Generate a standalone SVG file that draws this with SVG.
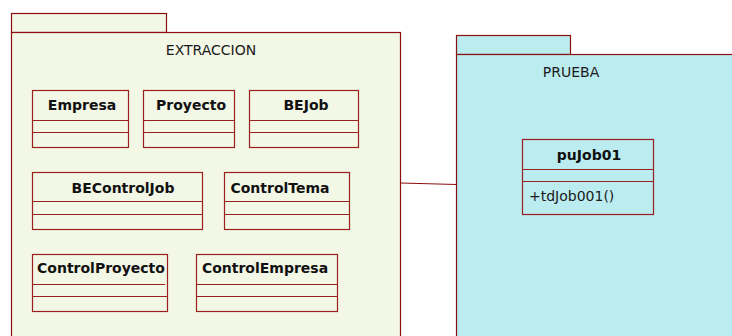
<svg xmlns="http://www.w3.org/2000/svg" width="732" height="336" viewBox="0 0 732 336">
  <style>
    .pkg-a { fill: #f3f7e5; stroke: #8b0f0f; stroke-width: 1.2; }
    .pkg-b { fill: #bbecf0; stroke: #8b0f0f; stroke-width: 1.2; }
    .cls { fill: none; stroke: #9a2020; stroke-width: 1.2; }
    .sep { stroke: #9a2020; stroke-width: 1.2; }
    .pname { font-family: "DejaVu Sans", Verdana, sans-serif; font-size: 14px; fill: #1a1a1a; text-anchor: middle; }
    .cname { font-family: "DejaVu Sans", Verdana, sans-serif; font-size: 14px; font-weight: bold; fill: #111; text-anchor: middle; }
    .op { font-family: "DejaVu Sans", Verdana, sans-serif; font-size: 14px; fill: #1a1a1a; }
    .conn { stroke: #8b0f0f; stroke-width: 1.2; fill: none; }
  </style>

  <!-- package EXTRACCION -->
  <g id="pkg-extraccion">
    <rect class="pkg-a" x="11.5" y="13.5" width="155" height="19"/>
    <rect class="pkg-a" x="11.5" y="32.5" width="389" height="320"/>
    <text class="pname" x="211" y="55">EXTRACCION</text>
  </g>

  <g id="cls-empresa">
    <rect class="cls" x="32.5" y="90.5" width="96" height="57"/>
    <line class="sep" x1="32.5" y1="120.5" x2="128.5" y2="120.5"/>
    <line class="sep" x1="32.5" y1="132.5" x2="128.5" y2="132.5"/>
    <text class="cname" x="82" y="110">Empresa</text>
  </g>
  <g id="cls-proyecto">
    <rect class="cls" x="143.5" y="90.5" width="91" height="57"/>
    <line class="sep" x1="143.5" y1="120.5" x2="234.5" y2="120.5"/>
    <line class="sep" x1="143.5" y1="132.5" x2="234.5" y2="132.5"/>
    <text class="cname" x="191" y="110">Proyecto</text>
  </g>
  <g id="cls-bejob">
    <rect class="cls" x="249.5" y="90.5" width="109" height="57"/>
    <line class="sep" x1="249.5" y1="120.5" x2="358.5" y2="120.5"/>
    <line class="sep" x1="249.5" y1="132.5" x2="358.5" y2="132.5"/>
    <text class="cname" x="306" y="110">BEJob</text>
  </g>
  <g id="cls-becontroljob">
    <rect class="cls" x="32.5" y="172.5" width="170" height="57"/>
    <line class="sep" x1="32.5" y1="201.5" x2="202.5" y2="201.5"/>
    <line class="sep" x1="32.5" y1="214.5" x2="202.5" y2="214.5"/>
    <text class="cname" x="123" y="193">BEControlJob</text>
  </g>
  <g id="cls-controltema">
    <rect class="cls" x="224.5" y="172.5" width="125" height="57"/>
    <line class="sep" x1="224.5" y1="201.5" x2="349.5" y2="201.5"/>
    <line class="sep" x1="224.5" y1="214.5" x2="349.5" y2="214.5"/>
    <text class="cname" x="280" y="193">ControlTema</text>
  </g>
  <g id="cls-controlproyecto">
    <rect class="cls" x="32.5" y="254.5" width="135" height="57"/>
    <line class="sep" x1="32.5" y1="284.5" x2="165" y2="284.5"/>
    <line class="sep" x1="32.5" y1="296.5" x2="167.5" y2="296.5"/>
    <text class="cname" x="101" y="273">ControlProyecto</text>
  </g>
  <g id="cls-controlempresa">
    <rect class="cls" x="196.5" y="254.5" width="141" height="57"/>
    <line class="sep" x1="196.5" y1="284.5" x2="337.5" y2="284.5"/>
    <line class="sep" x1="196.5" y1="296.5" x2="337.5" y2="296.5"/>
    <text class="cname" x="265" y="273">ControlEmpresa</text>
  </g>

  <!-- package PRUEBA -->
  <g id="pkg-prueba">
    <rect class="pkg-b" x="456.5" y="35.5" width="114" height="19"/>
    <rect class="pkg-b" x="456.5" y="54.5" width="300" height="300"/>
    <text class="pname" x="571" y="77">PRUEBA</text>
  </g>

  <g id="cls-pujob01">
    <rect class="cls" x="522.5" y="139.5" width="131" height="75"/>
    <line class="sep" x1="522.5" y1="169.5" x2="653.5" y2="169.5"/>
    <line class="sep" x1="522.5" y1="181.5" x2="653.5" y2="181.5"/>
    <text class="cname" x="589" y="160">puJob01</text>
    <text class="op" x="529" y="201">+tdJob001()</text>
  </g>

  <g id="connectors">
    <line class="conn" x1="400.5" y1="183" x2="456.5" y2="184.5"/>
  </g>
</svg>
